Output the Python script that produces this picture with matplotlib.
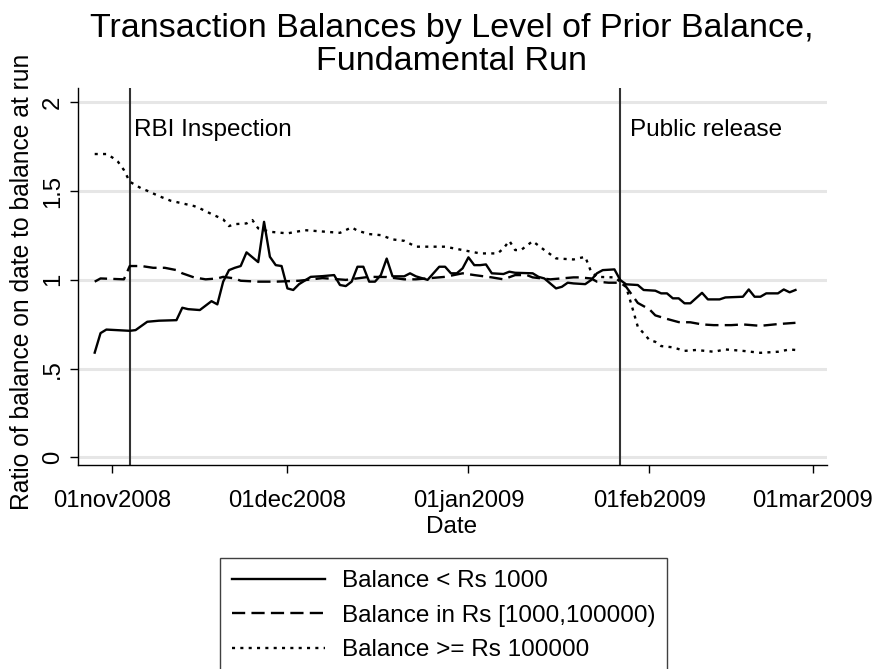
import matplotlib
matplotlib.use("Agg")
import matplotlib.pyplot as plt
import matplotlib.dates as mdates
import numpy as np

plt.rcParams['font.family'] = ['Liberation Sans', 'DejaVu Sans']
plt.rcParams['lines.scale_dashes'] = False

# ---------------- data (days since 01nov2008, ratio) ----------------
base_date = np.datetime64('2008-11-01')

low_days = [-3, -2, -1, 3, 4, 6, 8, 11, 12, 13, 15, 17, 18, 19, 20, 21, 22, 23, 25, 26,
            27, 28, 29, 30, 31, 32, 34, 36, 38, 39, 40, 41, 42, 43, 44, 45, 46, 47, 48,
            50, 51, 52, 54, 56, 57, 58, 59, 60, 61, 62, 63, 64, 65, 67, 68, 69, 72, 73,
            74, 76, 77, 78, 79, 81, 82, 83, 84, 86, 87, 88, 90, 91, 93, 94, 95, 96, 97,
            98, 99, 101, 102, 104, 105, 108, 109, 110, 111, 112, 114, 115, 116, 117]
low_vals = [0.59, 0.70, 0.72, 0.713, 0.717, 0.764, 0.77, 0.773, 0.843, 0.835, 0.83, 0.88,
            0.862, 0.99, 1.055, 1.068, 1.078, 1.155, 1.10, 1.327, 1.13, 1.083, 1.078, 0.952,
            0.943, 0.976, 1.017, 1.021, 1.027, 0.971, 0.965, 0.99, 1.074, 1.074, 0.99, 0.99,
            1.027, 1.12, 1.02, 1.02, 1.037, 1.02, 1.0, 1.074, 1.074, 1.037, 1.037, 1.065,
            1.127, 1.083, 1.083, 1.087, 1.037, 1.033, 1.046, 1.04, 1.037, 1.017, 1.008,
            0.952, 0.961, 0.984, 0.98, 0.976, 0.999, 1.037, 1.055, 1.059, 0.999, 0.975,
            0.971, 0.943, 0.939, 0.924, 0.924, 0.896, 0.896, 0.868, 0.868, 0.927, 0.89,
            0.89, 0.901, 0.905, 0.946, 0.905, 0.905, 0.924, 0.924, 0.946, 0.93, 0.943]

mid_days = [-3, -2, 2, 3, 5, 7, 9, 11, 12, 14, 16, 18, 19, 21, 22, 25, 28, 32, 36, 40,
            44, 47, 50, 52, 57, 60, 62, 65, 67, 69, 71, 72, 75, 79, 80, 82, 83, 85, 87,
            88, 90, 92, 93, 95, 97, 99, 101, 103, 106, 108, 111, 114, 117]
mid_vals = [0.99, 1.008, 1.003, 1.078, 1.078, 1.068, 1.068, 1.055, 1.037, 1.014, 1.003,
            1.008, 1.017, 1.008, 0.995, 0.99, 0.99, 0.995, 1.01, 1.0, 1.017, 1.016, 1.003,
            1.003, 1.017, 1.037, 1.027, 1.014, 1.003, 1.027, 1.027, 1.014, 1.003, 1.014,
            1.014, 1.008, 0.99, 0.984, 0.984, 0.961, 0.87, 0.834, 0.80, 0.78, 0.762, 0.761,
            0.749, 0.745, 0.745, 0.749, 0.741, 0.751, 0.758]

high_days = [-3, -1, 0, 1, 2, 3, 5, 6, 8, 10, 12, 14, 15, 17, 19, 20, 21, 23, 24, 25, 27,
             30, 33, 35, 39, 41, 42, 44, 46, 48, 50, 52, 57, 60, 63, 66, 67, 68, 69, 70,
             72, 74, 76, 79, 81, 82, 83, 86, 87, 88, 89, 90, 91, 92, 93, 94, 96, 98, 100,
             103, 105, 108, 111, 114, 116, 117]
high_vals = [1.709, 1.709, 1.69, 1.665, 1.619, 1.553, 1.515, 1.502, 1.472, 1.446, 1.431,
             1.416, 1.403, 1.371, 1.341, 1.303, 1.314, 1.318, 1.337, 1.29, 1.271, 1.262,
             1.28, 1.275, 1.265, 1.296, 1.277, 1.258, 1.252, 1.228, 1.22, 1.187, 1.187,
             1.168, 1.149, 1.149, 1.177, 1.22, 1.168, 1.168, 1.218, 1.168, 1.121, 1.115,
             1.13, 1.046, 1.017, 1.014, 0.99, 0.961, 0.85, 0.736, 0.699, 0.661, 0.651,
             0.627, 0.62, 0.60, 0.605, 0.595, 0.608, 0.60, 0.589, 0.595, 0.608, 0.605]

series_labels = ['Balance < Rs 1000', 'Balance in Rs [1000,100000)', 'Balance >= Rs 100000']

event_dates = ['2008-11-04', '2009-01-27']
event_labels = ['RBI Inspection', 'Public release']

xtick_dates = ['2008-11-01', '2008-12-01', '2009-01-01', '2009-02-01', '2009-03-01']
xtick_labels = ['01nov2008', '01dec2008', '01jan2009', '01feb2009', '01mar2009']
ytick_vals = [0, 0.5, 1, 1.5, 2]
ytick_labels = ['0', '.5', '1', '1.5', '2']

title_lines = ['Transaction Balances by Level of Prior Balance,', 'Fundamental Run']
xlabel = 'Date'
ylabel = 'Ratio of balance on date to balance at run'


def to_dates(days):
    return base_date + np.array(days, dtype='timedelta64[D]')


# ---------------- figure ----------------
W, H = 880, 669
fig = plt.figure(figsize=(W / 100, H / 100), dpi=100)
ax = fig.add_axes([78 / W, 1 - 465 / H, (827 - 78) / W, (465 - 88) / H])

l1, = ax.plot(to_dates(low_days), low_vals, color='black', lw=1.7, ls='-')
l2, = ax.plot(to_dates(mid_days), mid_vals, color='black', lw=1.7,
              ls=(0, (9.5, 4.5)))
l3, = ax.plot(to_dates(high_days), high_vals, color='black', lw=1.7,
              ls=(0, (2.2, 3.8)))

x0 = mdates.date2num(base_date)
ax.set_xlim(x0 - 5.86, x0 + 122.4)
ax.set_ylim(-0.043, 2.081)

ax.set_xticks([mdates.date2num(np.datetime64(d)) for d in xtick_dates])
ax.set_xticklabels(xtick_labels)
ax.set_yticks(ytick_vals)
ax.set_yticklabels(ytick_labels, rotation=90, va='center')

ax.tick_params(axis='both', direction='out', length=6, width=1, color='black',
               labelsize=17.2)
ax.tick_params(axis='x', pad=12)
ax.tick_params(axis='y', pad=4)

for s in ['top', 'right']:
    ax.spines[s].set_visible(False)
for s in ['left', 'bottom']:
    ax.spines[s].set_linewidth(1.0)
    ax.spines[s].set_color('black')

ax.yaxis.grid(True, color='#e6e6e6', lw=2.2)
ax.set_axisbelow(True)

text_offsets = [4, 10]
for d, lab, off in zip(event_dates, event_labels, text_offsets):
    xd = mdates.date2num(np.datetime64(d))
    ax.axvline(xd, color='#333333', lw=1.5, zorder=1)
    ax.annotate(lab, xy=(xd, 1.844), xytext=(off * 0.72, 0), textcoords='offset points',
                ha='left', va='center', fontsize=17.5)

ax.set_xlabel(xlabel, fontsize=17.5)
ax.xaxis.set_label_coords((452 - 78) / (827 - 78), (465 - 527) / (465 - 88))
ax.xaxis.label.set_va('center')
ax.set_ylabel(ylabel, fontsize=17.7)
ax.yaxis.set_label_coords((22 - 78) / (827 - 78), (465 - 282) / (465 - 88))
ax.yaxis.label.set_va('center')

fig.text(451.5 / W, 1 - 29 / H, title_lines[0], ha='center', va='center', fontsize=24.5)
fig.text(451.5 / W, 1 - 61 / H, title_lines[1], ha='center', va='center', fontsize=24.5)

leg = fig.legend([l1, l2, l3], series_labels, loc='upper left',
                 bbox_to_anchor=(220 / W, 1 - 558 / H), frameon=True, fancybox=False,
                 edgecolor='#404040', framealpha=1, fontsize=17.5, handlelength=3.8,
                 handletextpad=0.7, labelspacing=0.52, borderpad=0.5, borderaxespad=0)
leg.get_frame().set_linewidth(1.0)

fig.savefig('out.png', dpi=100)
